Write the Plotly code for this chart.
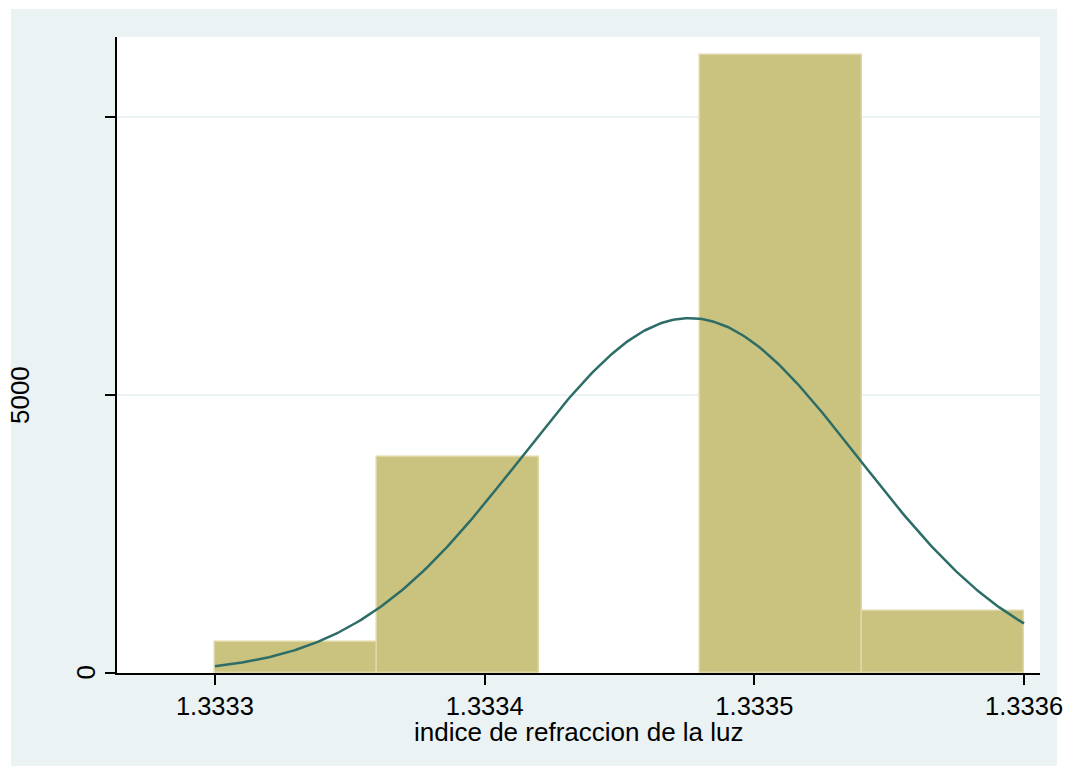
import numpy as np
import plotly.graph_objects as go

# Histogram data (density scale)
bin_start = 1.3333
bin_width = 0.00006
counts = [1, 7, 0, 20, 2]
n_obs = 30
# Normal density overlay parameters
norm_mean = 1.333476
norm_sd = 0.0000625
x_tickvals = [1.3333, 1.3334, 1.3335, 1.3336]
x_ticktext = ["1.3333", "1.3334", "1.3335", "1.3336"]
y_tickvals = [0, 5000, 10000]
y_ticktext = ["0", "5000", ""]
x_title = "indice de refraccion de la luz"

centers = [bin_start + bin_width * (i + 0.5) for i in range(len(counts))]
density = [c / (n_obs * bin_width) if c > 0 else None for c in counts]

xs = np.linspace(bin_start, bin_start + bin_width * len(counts), 300)
ys = np.exp(-0.5 * ((xs - norm_mean) / norm_sd) ** 2) / (norm_sd * np.sqrt(2 * np.pi))

BG = "#EAF2F3"
FONT = "Liberation Sans, Arial, sans-serif"

fig = go.Figure()
fig.add_trace(go.Bar(
    x=centers, y=density, width=[bin_width] * len(counts),
    marker=dict(color="#CAC27F", line=dict(color="#DDD8A6", width=1.5)),
    showlegend=False, hoverinfo="skip"))
fig.add_trace(go.Scatter(
    x=xs, y=ys, mode="lines", line=dict(color="#2C6D67", width=2.5),
    showlegend=False, hoverinfo="skip"))

# page body has an 8px margin, so figure coordinates are offset by 8px
OFF = 8
W, H = 1055, 764
L, T = 117 - OFF, 37 - OFF
R = W - (1040 - OFF)
B = H - (673 - OFF)
pw, ph = W - L - R, H - T - B

def px_x(p):
    return (p - OFF - L) / pw

def px_y(p):
    return (H - B - (p - OFF)) / ph

shapes = [
    dict(type="rect", xref="paper", yref="paper", x0=px_x(11), x1=px_x(1057),
         y0=px_y(766), y1=px_y(9), fillcolor=BG, line=dict(width=0), layer="below"),
    dict(type="rect", xref="paper", yref="paper", x0=0, x1=1, y0=0, y1=1,
         fillcolor="white", line=dict(width=0), layer="below"),
]

annotations = []
shifts = {"0": -31.5, "5000": -97}
for v, t in zip(y_tickvals, y_ticktext):
    if t:
        annotations.append(dict(
            x=0, xref="paper", y=v, yref="y", text=t, textangle=-90,
            showarrow=False, xanchor="center", yanchor="middle",
            xshift=shifts[t], font=dict(family=FONT, size=26, color="#000000")))
annotations.append(dict(
    x=0.5, xref="paper", y=px_y(732), yref="paper", text=x_title,
    showarrow=False, xanchor="center", yanchor="middle",
    font=dict(family=FONT, size=26, color="#000000")))

fig.update_layout(
    width=W, height=H,
    margin=dict(l=L, r=R, t=T, b=B, autoexpand=False),
    paper_bgcolor="white", plot_bgcolor="white",
    bargap=0, shapes=shapes, annotations=annotations,
    font=dict(family=FONT, size=26, color="#000000"),
    xaxis=dict(range=[1.3332637, 1.3336059], tickvals=x_tickvals, ticktext=x_ticktext,
               ticks="outside", ticklen=10, tickwidth=1.5, tickcolor="#000000",
               showline=True, linecolor="#000000", linewidth=1.5, automargin=False,
               showgrid=False, zeroline=False, ticklabeloverflow="allow",
               tickfont=dict(size=25.5)),
    yaxis=dict(range=[0, 11440], tickvals=y_tickvals, showticklabels=False,
               ticks="outside", ticklen=10, tickwidth=1.5, tickcolor="#000000",
               showline=True, linecolor="#000000", linewidth=1.5, automargin=False,
               showgrid=True, gridcolor=BG, gridwidth=2, zeroline=False),
)

fig.write_html("out.html")
